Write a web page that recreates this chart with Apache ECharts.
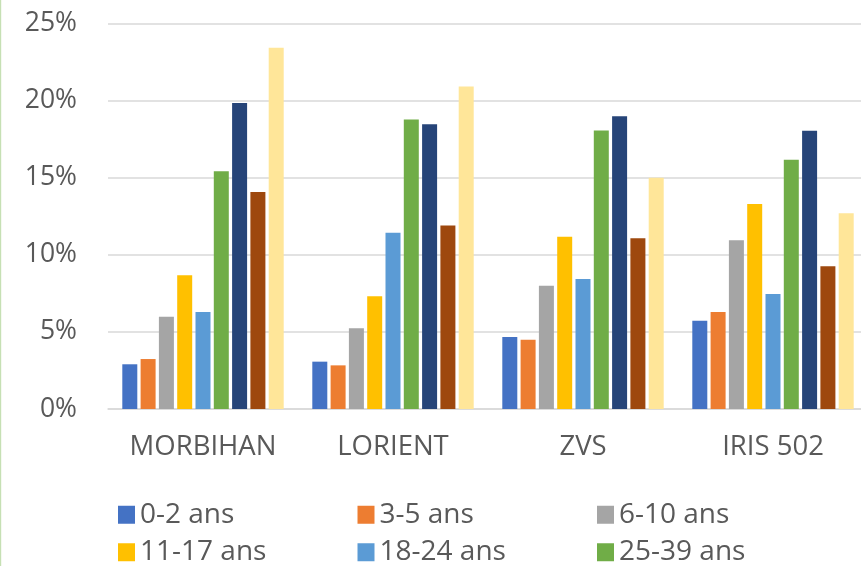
<!DOCTYPE html>
<html>
<head>
<meta charset="utf-8">
<script src="https://cdn.jsdelivr.net/npm/echarts@6/dist/echarts.min.js"></script>
<style>
html,body{margin:0;padding:0;background:#fff;overflow:hidden;width:861px;height:566px;}
#chart{width:868px;height:566px;}
</style>
</head>
<body>
<div id="chart"></div>
<script>
const categories = ['MORBIHAN', 'LORIENT', 'ZVS', 'IRIS 502'];
const seriesNames = ['0-2 ans', '3-5 ans', '6-10 ans', '11-17 ans', '18-24 ans', '25-39 ans', '40-54 ans', '55-64 ans', '65 ans et plus'];
const seriesColors = ['#4472C4', '#ED7D31', '#A5A5A5', '#FFC000', '#5B9BD5', '#70AD47', '#264478', '#9E480E', '#FFE699'];
const age0_2   = [2.9, 3.07, 4.67, 5.72];
const age3_5   = [3.24, 2.83, 4.49, 6.29];
const age6_10  = [5.98, 5.23, 7.99, 10.95];
const age11_17 = [8.68, 7.32, 11.17, 13.29];
const age18_24 = [6.29, 11.43, 8.43, 7.45];
const age25_39 = [15.42, 18.77, 18.06, 16.16];
const age40_54 = [19.85, 18.47, 18.99, 18.04];
const age55_64 = [14.08, 11.9, 11.08, 9.25];
const age65p   = [23.42, 20.91, 14.99, 12.7];
const seriesValues = [age0_2, age3_5, age6_10, age11_17, age18_24, age25_39, age40_54, age55_64, age65p];
const yTicks = [0, 5, 10, 15, 20, 25];

const font = 'Open Sans';
const chart = echarts.init(document.getElementById('chart'));
chart.setOption({
  animation: false,
  textStyle: { fontFamily: font },
  graphic: [{ type: 'rect', left: 0, top: 0, shape: { width: 1.2, height: 566 }, style: { fill: '#C6E0B4' } }],
  grid: { left: 108, right: 0, top: 23.5, bottom: 157, containLabel: false },
  legend: {
    data: seriesNames,
    left: 118, top: 496, width: 720, padding: 0,
    itemWidth: 17, itemHeight: 18, itemGap: 0,
    icon: 'rect',
    textStyle: { fontFamily: font, fontSize: 28, color: '#595959', width: 217.5, lineHeight: 37.5 }
  },
  xAxis: {
    type: 'category', data: categories,
    axisLine: { lineStyle: { color: '#D9D9D9', width: 1.5 } },
    axisTick: { show: false },
    axisLabel: { fontFamily: font, fontSize: 27.5, color: '#595959', margin: 24, interval: 0 }
  },
  yAxis: {
    type: 'value', min: yTicks[0], max: yTicks[yTicks.length - 1], interval: 5,
    axisLine: { show: false }, axisTick: { show: false },
    splitLine: { lineStyle: { color: '#D9D9D9', width: 1.5 } },
    axisLabel: { fontFamily: font, fontSize: 26.5, color: '#595959', margin: 31, formatter: '{value}%' }
  },
  series: seriesNames.map((n, i) => ({
    name: n, type: 'bar', data: seriesValues[i],
    barWidth: 15, barGap: '22%',
    itemStyle: { color: seriesColors[i] }
  }))
});
</script>
</body>
</html>
